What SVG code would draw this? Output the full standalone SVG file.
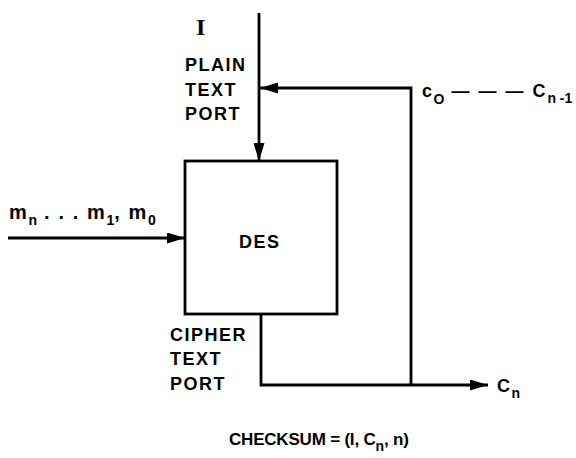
<svg xmlns="http://www.w3.org/2000/svg" width="576" height="458" viewBox="0 0 576 458">
<style>
.ln{stroke:#000;stroke-width:2.8;fill:none}
.t{font-family:"Liberation Sans",Arial,sans-serif;font-weight:bold;font-size:18px;letter-spacing:1.5px;fill:#000}
.s{font-size:14px;letter-spacing:0}
</style>
<defs>
<marker id="ah" viewBox="0 0 18 11" refX="18" refY="5.5" markerWidth="18" markerHeight="11" markerUnits="userSpaceOnUse" orient="auto">
<path d="M0,0 L18,5.5 L0,11 z" fill="#000"/>
</marker>
</defs>
<rect width="576" height="458" fill="#fff"/>
<g id="des">
<rect x="185" y="161" width="152" height="153" class="ln"/>
<text x="239" y="248" class="t">DES</text>
</g>
<g id="labels">
<text x="196" y="35" style="font-family:'Liberation Serif',serif;font-weight:bold;font-size:24px">I</text>
<text x="185" y="71" class="t">PLAIN</text>
<text x="185" y="96" class="t">TEXT</text>
<text x="185" y="120" class="t">PORT</text>
<text x="170" y="341" class="t">CIPHER</text>
<text x="170" y="365" class="t">TEXT</text>
<text x="170" y="390" class="t">PORT</text>
<text x="9" y="219" class="t" style="font-size:20px;letter-spacing:1.6px">m<tspan class="s" dy="6">n</tspan><tspan dy="-6"> . . . m</tspan><tspan class="s" dy="6">1</tspan><tspan dy="-6">, m</tspan><tspan class="s" dy="6">0</tspan></text>
<text x="422" y="97" class="t">c<tspan class="s" dy="7">O</tspan><tspan dy="-7" style="letter-spacing:2px"> — — —  C</tspan><tspan class="s" dy="6">n -1</tspan></text>
<text x="497" y="392" class="t">C<tspan class="s" dy="6">n</tspan></text>
<text x="229" y="445" class="t" style="font-size:17px;letter-spacing:-0.2px">CHECKSUM = (I, C<tspan class="s" dy="6">n</tspan><tspan dy="-6">, n)</tspan></text>
</g>
<g id="connectors">
<path d="M259,13 V161" class="ln" marker-end="url(#ah)"/>
<path d="M411,385 V88 H260" class="ln" marker-end="url(#ah)"/>
<path d="M8,238 H185" class="ln" marker-end="url(#ah)"/>
<path d="M261,314 V385 H488" class="ln" marker-end="url(#ah)"/>
</g>
</svg>
